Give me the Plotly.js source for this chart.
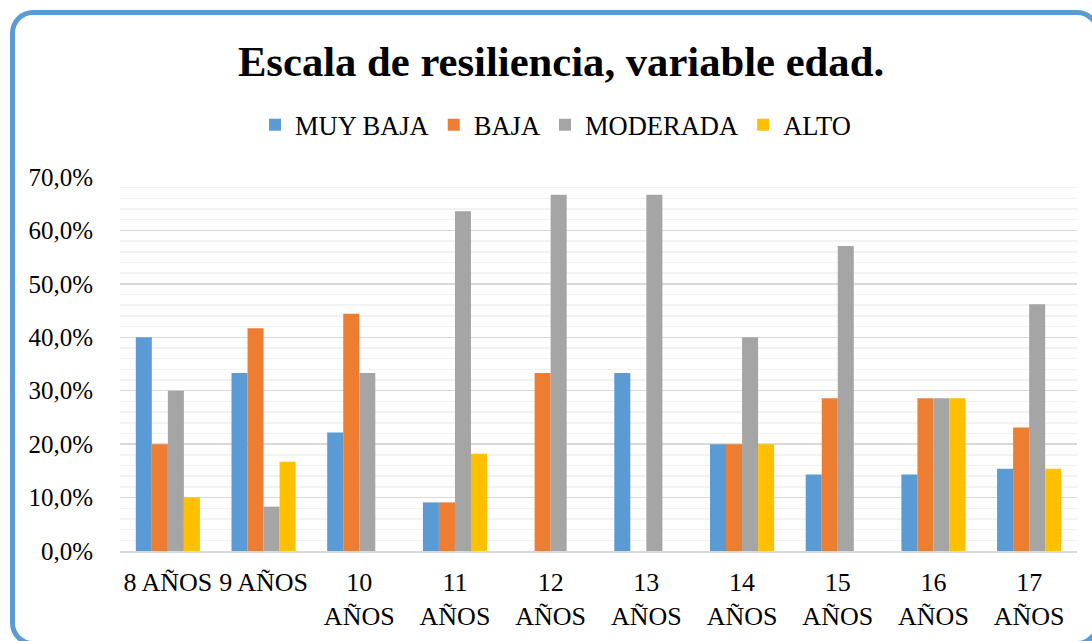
<!DOCTYPE html>
<html>
<head>
<meta charset="utf-8">
<script src="https://cdn.plot.ly/plotly-3.0.1.min.js"></script>
<style>
  html, body { margin: 0; padding: 0; background: #fff; }
  #wrap { position: relative; width: 1092px; height: 641px; overflow: hidden; }
  #chart { position: absolute; left: 0; top: 0; width: 1092px; height: 641px; }
  #frame { position: absolute; left: 10px; top: 10px; width: 1080px; height: 626px;
           border: 5px solid #5B9BD5; border-radius: 23px; pointer-events: none; }
</style>
</head>
<body>
<div id="wrap">
  <div id="chart"></div>
  <div id="frame"></div>
</div>
<script>
const categories = ["8 AÑOS", "9 AÑOS", "10<br>AÑOS", "11<br>AÑOS", "12<br>AÑOS", "13<br>AÑOS", "14<br>AÑOS", "15<br>AÑOS", "16<br>AÑOS", "17<br>AÑOS"];
const seriesNames = ["MUY BAJA", "BAJA", "MODERADA", "ALTO"];
const muyBaja  = [40.0, 33.3, 22.2,  9.1,  0.0, 33.3, 20.0, 14.3, 14.3, 15.4];
const baja     = [20.0, 41.7, 44.4,  9.1, 33.3,  0.0, 20.0, 28.6, 28.6, 23.1];
const moderada = [30.0,  8.3, 33.3, 63.6, 66.7, 66.7, 40.0, 57.1, 28.6, 46.2];
const alto     = [10.0, 16.7,  0.0, 18.2,  0.0,  0.0, 20.0,  0.0, 28.6, 15.4];
const colors = ["#5B9BD5", "#ED7D31", "#A5A5A5", "#FFC000"];

const FONT = "Liberation Serif";
const series = [muyBaja, baja, moderada, alto];
const data = series.map((vals, i) => ({
  type: "bar",
  name: seriesNames[i],
  x: categories,
  y: vals,
  marker: { color: colors[i], line: { width: 0 } },
  hoverinfo: "x+y+name"
}));

const layout = {
  width: 1092, height: 641,
  paper_bgcolor: "#ffffff", plot_bgcolor: "#ffffff",
  separators: ",.",
  font: { family: FONT, color: "#000000", size: 26 },
  margin: { l: 120, r: 15, t: 177, b: 90, pad: 0 },
  barmode: "group",
  bargap: 0.33,
  bargroupgap: 0,
  title: {
    text: "<b>Escala de resiliencia, variable edad.</b>",
    font: { family: FONT, size: 42.67, color: "#000000" },
    xref: "container", x: 561 / 1092, xanchor: "center",
    yref: "container", y: 1 - 61 / 641, yanchor: "middle"
  },
  showlegend: true,
  legend: {
    orientation: "h",
    xref: "container", x: 255 / 1092, xanchor: "left",
    yref: "container", y: 1 - 125 / 641, yanchor: "middle",
    font: { family: FONT, size: 26.5, color: "#000000" },
    bgcolor: "rgba(0,0,0,0)",
    traceorder: "normal"
  },
  xaxis: {
    type: "category",
    showgrid: false,
    showline: true, linecolor: "#D9D9D9", linewidth: 1.5,
    ticks: "",
    tickfont: { family: FONT, size: 26, color: "#000000" },
    ticklabelstandoff: 7,
    tickangle: 0,
    fixedrange: true
  },
  yaxis: {
    range: [0, 70],
    dtick: 10,
    tick0: 0,
    tickformat: ".1f",
    ticksuffix: "%",
    showgrid: true, gridcolor: "#D9D9D9", gridwidth: 1.5,
    zeroline: false,
    showline: false,
    ticks: "",
    ticklabelstandoff: 26,
    tickfont: { family: FONT, size: 25, color: "#000000" },
    minor: { dtick: 2, showgrid: true, gridcolor: "#F2F2F2", gridwidth: 1.5, ticks: "" },
    fixedrange: true
  }
};

Plotly.newPlot("chart", data, layout, { displayModeBar: false, staticPlot: true });
</script>
</body>
</html>
